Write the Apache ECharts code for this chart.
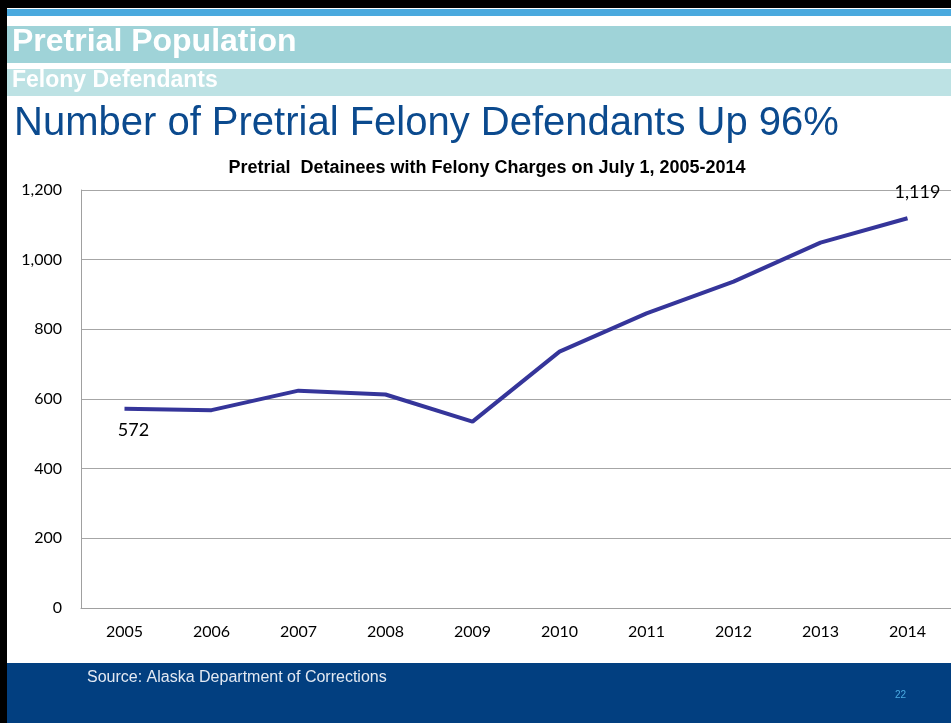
<!DOCTYPE html>
<html>
<head>
<meta charset="utf-8">
<script src="https://cdn.jsdelivr.net/npm/echarts@6/dist/echarts.min.js"></script>
<style>
html, body { margin: 0; padding: 0; background: #fff; }
#main { width: 951px; height: 723px; }
</style>
</head>
<body>
<div id="main"></div>
<script>
// data
var years = ['2005', '2006', '2007', '2008', '2009', '2010', '2011', '2012', '2013', '2014'];
var detainees = [572, 568, 624, 613, 535, 736, 846, 937, 1049, 1119];
var yTicks = [0, 200, 400, 600, 800, 1000, 1200];

var myChart = echarts.init(document.getElementById('main'));

// only the first and last points carry a label
var lineData = detainees.map(function (v, i) {
    if (i === 0) {
        return { value: v, label: { show: true, position: 'bottom', offset: [9, 0], distance: 12 } };
    }
    if (i === detainees.length - 1) {
        return { value: v, label: { show: true, position: 'top', offset: [10, -12] } };
    }
    return v;
});

var option = {
    backgroundColor: '#ffffff',
    animation: false,
    title: [
        {
            text: 'Pretrial  Detainees with Felony Charges on July 1, 2005-2014',
            left: 482, textAlign: 'center', top: 154,
            textStyle: { fontFamily: 'Liberation Sans, Arial', fontWeight: 'bold', fontSize: 18, color: '#000' }
        }
    ],
    graphic: [
        // slide frame and header bands
        { type: 'rect', shape: { x: 0, y: 0, width: 951, height: 8 }, style: { fill: '#000' } },
        { type: 'rect', shape: { x: 0, y: 0, width: 7, height: 723 }, style: { fill: '#000' } },
        { type: 'rect', shape: { x: 7, y: 9, width: 944, height: 7 }, style: { fill: '#4aa9de' } },
        { type: 'rect', shape: { x: 7, y: 26, width: 944, height: 37 }, style: { fill: '#9fd3d8' } },
        { type: 'rect', shape: { x: 7, y: 69, width: 944, height: 27 }, style: { fill: '#bde2e4' } },
        { type: 'text', left: 12, top: 26, style: { text: 'Pretrial Population', fill: '#fff', font: 'bold 32px "Liberation Sans", Arial' } },
        { type: 'text', left: 12, top: 69, style: { text: 'Felony Defendants', fill: '#fff', font: 'bold 23px "Liberation Sans", Arial' } },
        { type: 'text', left: 14, top: 104, style: { text: 'Number of Pretrial Felony Defendants Up 96%', fill: '#0b4a8e', font: '40px "Liberation Sans", Arial' } },
        // footer
        { type: 'rect', shape: { x: 7, y: 663, width: 944, height: 60 }, style: { fill: '#023f80' } },
        { type: 'text', left: 87, top: 670, style: { text: 'Source: Alaska Department of Corrections', fill: '#e3e9f2', font: '16px "Liberation Sans", Arial' } },
        { type: 'text', left: 895, top: 690, style: { text: '22', fill: '#4aa9e0', font: '10px "Liberation Sans", Arial' } }
    ],
    grid: { left: 81, top: 190, width: 875, height: 418 },
    xAxis: {
        type: 'category',
        data: years,
        boundaryGap: true,
        axisLine: { lineStyle: { color: '#a0a0a0', width: 1 } },
        axisTick: { show: false },
        axisLabel: { color: '#000', fontFamily: 'Lato', fontSize: 16, margin: 16 }
    },
    yAxis: {
        type: 'value',
        min: yTicks[0],
        max: yTicks[yTicks.length - 1],
        interval: 200,
        axisLine: { show: true, lineStyle: { color: '#a0a0a0', width: 1 } },
        axisTick: { show: false },
        splitLine: { lineStyle: { color: '#a6a6a6', width: 1 } },
        axisLabel: {
            color: '#000', fontFamily: 'Lato', fontSize: 16, margin: 19,
            formatter: function (v) { return v.toLocaleString('en-US'); }
        }
    },
    series: [{
        type: 'line',
        data: lineData,
        symbol: 'circle',
        symbolSize: 0,
        showAllSymbol: true,
        lineStyle: { color: '#35359a', width: 4 },
        itemStyle: { color: '#35359a' },
        label: {
            show: false,
            color: '#000', fontFamily: 'Lato', fontSize: 18,
            formatter: function (p) { return p.value.toLocaleString('en-US'); }
        }
    }]
};

myChart.setOption(option);
</script>
</body>
</html>
